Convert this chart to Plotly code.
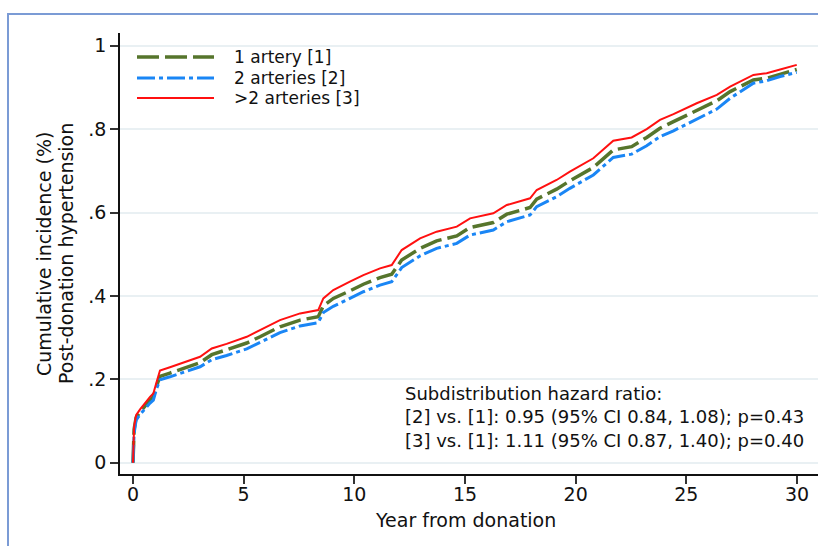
import plotly.graph_objects as go

# ---------------- data ----------------
years = [0, 0.02, 0.05, 0.14, 0.32, 0.77, 0.92, 1.07, 1.22, 1.67, 2.43, 3.03, 3.56, 4.23,
         5.14, 5.74, 6.64, 7.55, 8.37, 8.6, 9.05, 9.8, 10.41, 11.16, 11.69, 12.14, 12.97,
         13.72, 14.63, 15.23, 16.28, 16.89, 17.94, 18.24, 19.14, 19.74, 20.8, 21.7, 22.53,
         23.21, 23.81, 24.42, 25.47, 26.38, 26.98, 28.03, 28.63, 29.24, 29.99]

one_artery = [0, 0.04, 0.08, 0.108, 0.122, 0.150, 0.158, 0.185, 0.207, 0.215, 0.228, 0.240,
              0.259, 0.270, 0.287, 0.302, 0.326, 0.342, 0.350, 0.376, 0.394, 0.412, 0.428,
              0.444, 0.452, 0.486, 0.514, 0.532, 0.544, 0.564, 0.576, 0.596, 0.612, 0.632,
              0.656, 0.676, 0.708, 0.750, 0.758, 0.780, 0.802, 0.818, 0.846, 0.868, 0.890,
              0.918, 0.922, 0.932, 0.943]

two_arteries = [0, 0.03, 0.07, 0.102, 0.116, 0.143, 0.150, 0.178, 0.199, 0.206, 0.219, 0.230,
                0.247, 0.257, 0.273, 0.288, 0.312, 0.328, 0.336, 0.360, 0.375, 0.394, 0.410,
                0.426, 0.434, 0.468, 0.496, 0.514, 0.526, 0.546, 0.558, 0.578, 0.594, 0.614,
                0.638, 0.658, 0.690, 0.732, 0.740, 0.760, 0.782, 0.796, 0.824, 0.848, 0.874,
                0.910, 0.916, 0.926, 0.936]

more_arteries = [0, 0.05, 0.086, 0.114, 0.128, 0.158, 0.166, 0.194, 0.221, 0.229, 0.242, 0.254,
                 0.274, 0.285, 0.302, 0.318, 0.342, 0.358, 0.366, 0.394, 0.414, 0.434, 0.450,
                 0.466, 0.474, 0.510, 0.538, 0.554, 0.566, 0.586, 0.598, 0.618, 0.634, 0.654,
                 0.678, 0.698, 0.730, 0.772, 0.780, 0.800, 0.822, 0.836, 0.862, 0.882, 0.902,
                 0.930, 0.934, 0.943, 0.954]

series_names = ["1 artery [1]", "2 arteries [2]", ">2 arteries [3]"]
x_ticks = [0, 5, 10, 15, 20, 25, 30]
y_ticks = [0, 0.2, 0.4, 0.6, 0.8, 1.0]
y_tick_labels = ["0", ".2", ".4", ".6", ".8", "1"]
hr_lines = ["Subdistribution hazard ratio:",
            "[2] vs. [1]: 0.95 (95% CI 0.84, 1.08); p=0.43",
            "[3] vs. [1]: 1.11 (95% CI 0.87, 1.40); p=0.40"]
y_title_lines = ["Cumulative incidence (%)", "Post-donation hypertension"]
x_title = "Year from donation"

# ---------------- styling ----------------
W, H = 818, 546
ML, MR, MT, MB = 120, 0, 33, 72
FONT = "DejaVu Sans"
GREEN, BLUE, RED = "#56752c", "#1a86f5", "#ff1010"
styles = [
    dict(color=GREEN, width=3.5, dash="22px,6px"),
    dict(color=BLUE, width=3, dash="18px,4px,4px,4px"),
    dict(color=RED, width=2, dash="solid"),
]


def px_x(p):
    return (p - ML) / (W - ML - MR)


def px_y(p):
    return (H - MB - p) / (H - MT - MB)


fig = go.Figure()
for vals, name, st in zip([one_artery, two_arteries, more_arteries], series_names, styles):
    fig.add_trace(go.Scatter(x=years, y=vals, mode="lines", name=name,
                             line=st, showlegend=False))

# manual legend (long line samples like the original)
shapes = []
annotations = []
legend_rows = [57, 78, 98]
for name, st, yy in zip(series_names, styles, legend_rows):
    shapes.append(dict(type="line", xref="paper", yref="paper",
                       x0=px_x(137), x1=px_x(214), y0=px_y(yy), y1=px_y(yy),
                       line=st))
    annotations.append(dict(text=name, xref="paper", yref="paper",
                            x=px_x(232), y=px_y(yy), xanchor="left", yanchor="middle",
                            showarrow=False, font=dict(family=FONT, size=17, color="#111")))

# outer frame (top and left edges visible)
shapes.append(dict(type="rect", xref="paper", yref="paper",
                   x0=px_x(8), x1=px_x(W + 20), y0=px_y(H + 20), y1=px_y(14),
                   line=dict(color="#7b9bd5", width=2), layer="below"))

annotations.append(dict(text="<br>".join(hr_lines), xref="paper", yref="paper",
                        x=px_x(403), y=px_y(417), xanchor="left", yanchor="middle",
                        align="left", showarrow=False,
                        font=dict(family=FONT, size=18, color="#111")))

for line, cx in zip(y_title_lines, [44, 66]):
    annotations.append(dict(text=line, xref="paper", yref="paper", textangle=-90,
                            x=px_x(cx), y=px_y(254), xanchor="center", yanchor="middle",
                            showarrow=False, font=dict(family=FONT, size=19, color="#111")))

annotations.append(dict(text=x_title, xref="paper", yref="paper",
                        x=px_x(465), y=px_y(520), xanchor="center", yanchor="middle",
                        showarrow=False, font=dict(family=FONT, size=19, color="#111")))

fig.update_layout(
    width=W, height=H,
    margin=dict(l=ML, r=MR, t=MT, b=MB, pad=0),
    paper_bgcolor="white", plot_bgcolor="white",
    font=dict(family=FONT, size=19, color="#111"),
    shapes=shapes, annotations=annotations,
    showlegend=False,
)
fig.update_xaxes(range=[-0.587, 30.95], tickvals=x_ticks, showgrid=False, zeroline=False,
                 showline=True, linecolor="#111", linewidth=1.5,
                 ticks="outside", ticklen=8, tickwidth=1.5, tickcolor="#333",
                 tickfont=dict(family=FONT, size=19, color="#111"), ticklabelstandoff=-6)
fig.update_yaxes(range=[-0.0271, 1.0305], tickvals=y_ticks, ticktext=y_tick_labels,
                 showgrid=True, gridcolor="#e9f0f3", gridwidth=2, zeroline=False,
                 showline=True, linecolor="#111", linewidth=1.5,
                 ticks="outside", ticklen=8, tickwidth=1.5, tickcolor="#333",
                 tickfont=dict(family=FONT, size=19, color="#111"))

fig.write_html("out.html")
